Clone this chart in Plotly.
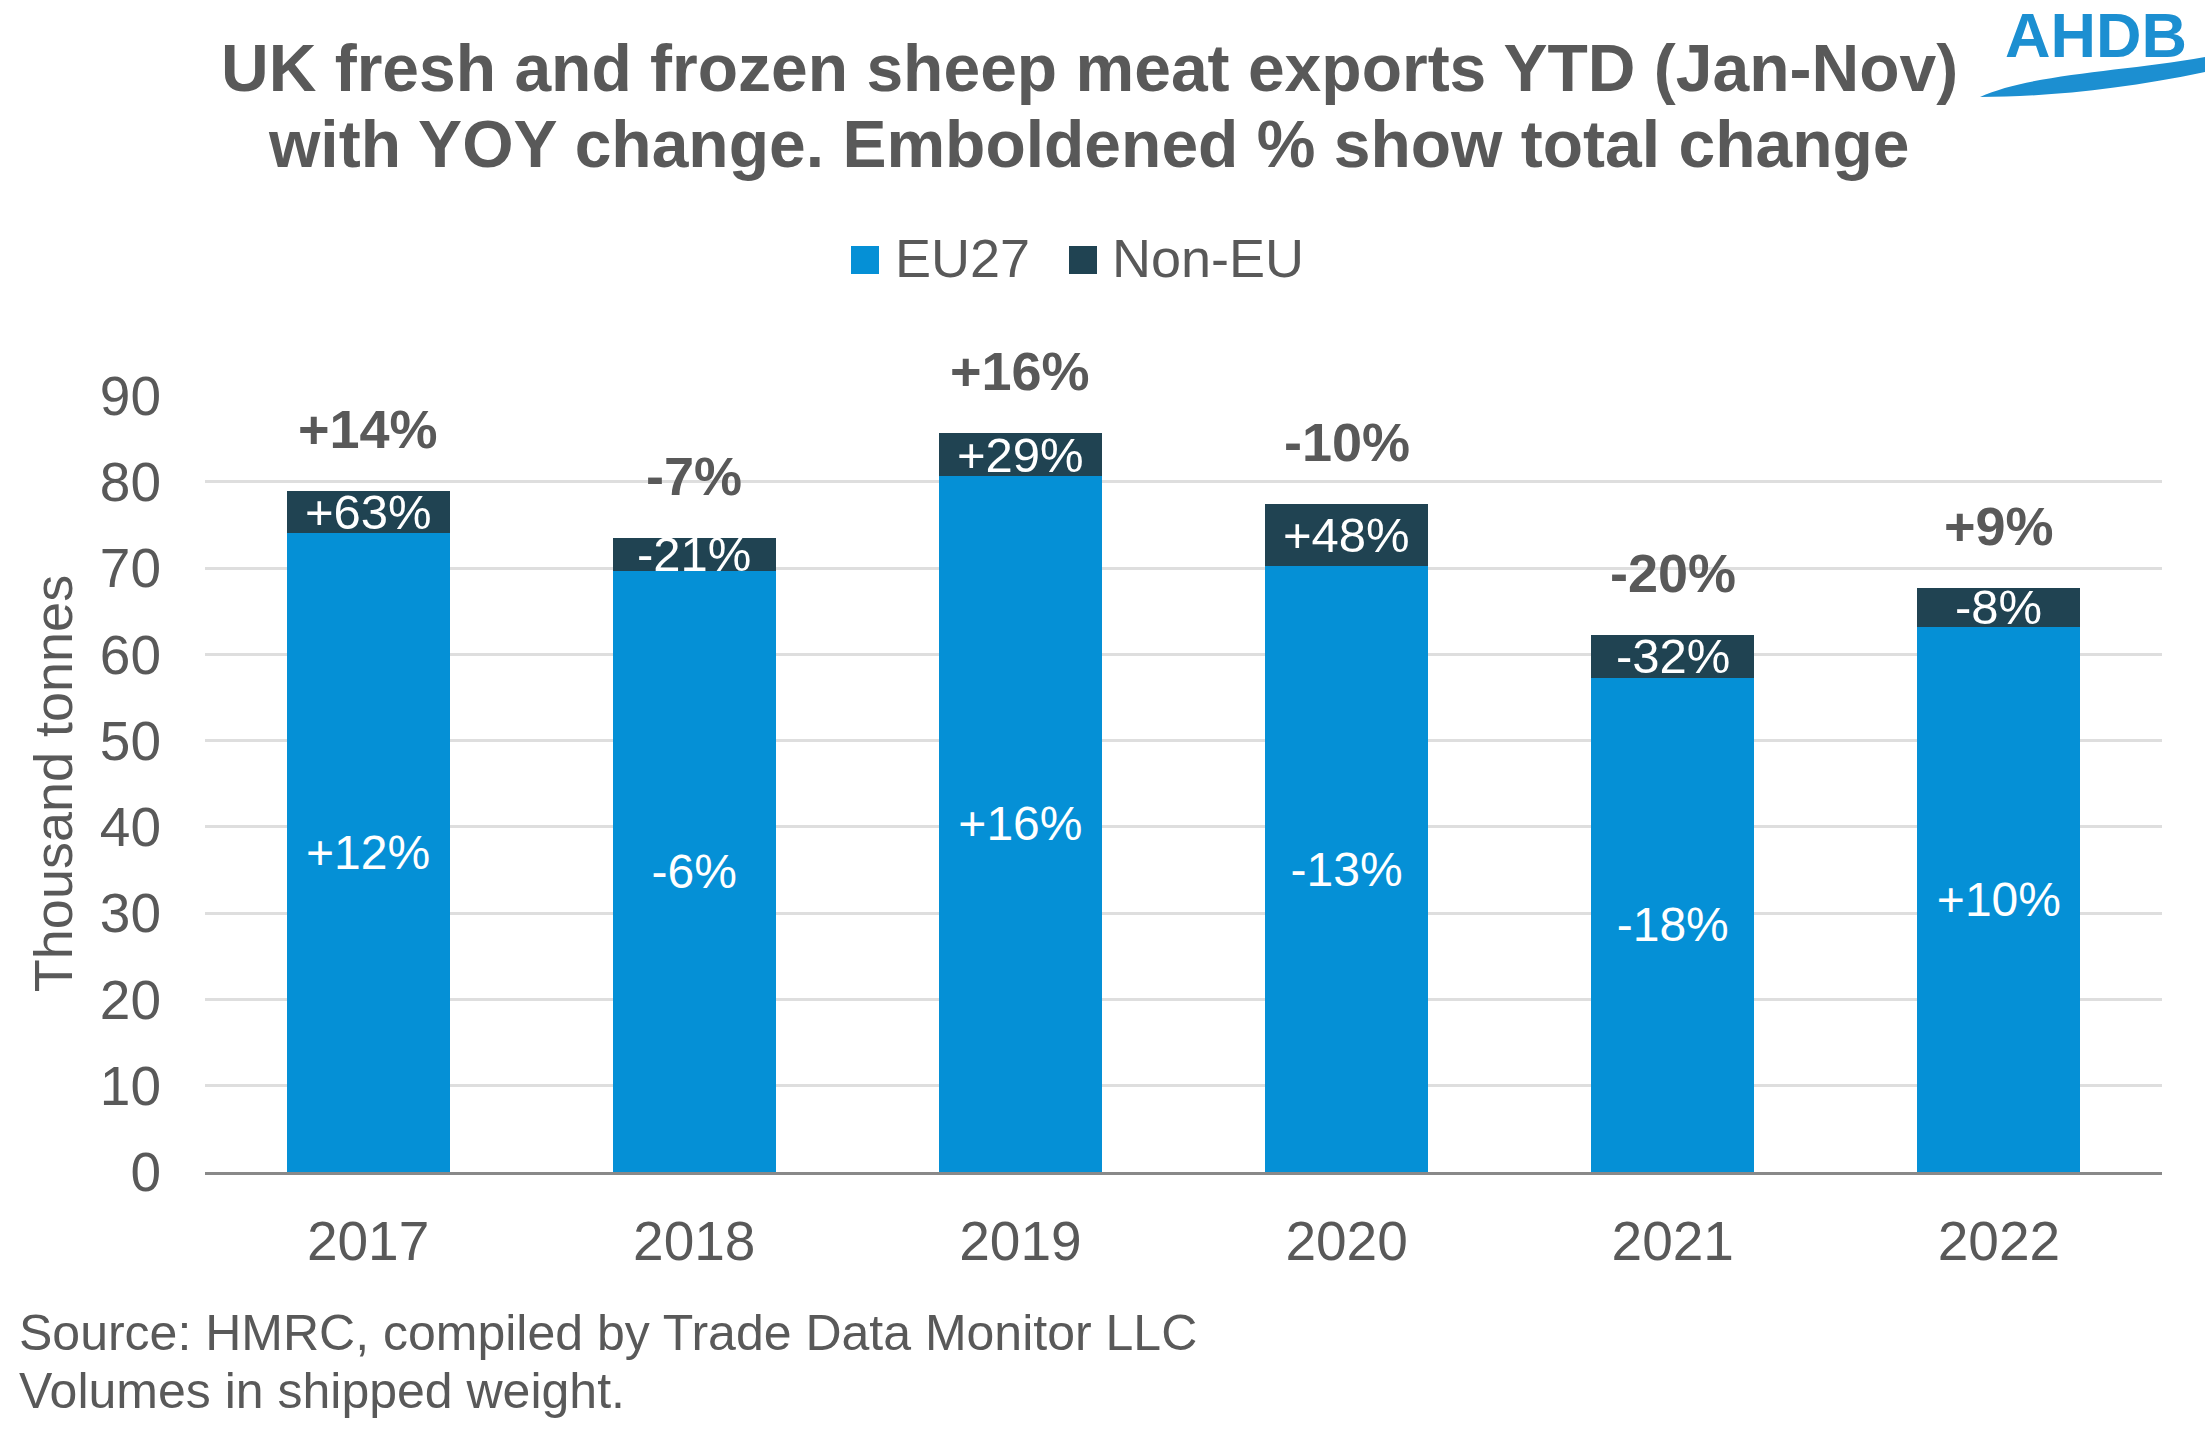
import plotly.graph_objects as go

# ---------------- data ----------------
years = ["2017", "2018", "2019", "2020", "2021", "2022"]
eu27 = [74.1, 69.7, 80.7, 70.2, 57.3, 63.2]
non_eu = [4.8, 3.8, 4.9, 7.2, 4.9, 4.5]
eu27_change = ["+12%", "-6%", "+16%", "-13%", "-18%", "+10%"]
non_eu_change = ["+63%", "-21%", "+29%", "+48%", "-32%", "-8%"]
total_change = ["+14%", "-7%", "+16%", "-10%", "-20%", "+9%"]
y_ticks = [0, 10, 20, 30, 40, 50, 60, 70, 80, 90]
series_names = ["EU27", "Non-EU"]

title_lines = ["UK fresh and frozen sheep meat exports YTD (Jan-Nov)",
               "with YOY change. Emboldened % show total change"]
source_lines = ["Source: HMRC, compiled by Trade Data Monitor LLC",
                "Volumes in shipped weight."]

# ---------------- style ----------------
W, H = 2209, 1430
L, R, T, B = 205, 2162, 395, 1172
FONT = "Liberation Sans, Arial, sans-serif"
GREY = "#595959"
EU_COL = "#0590d6"
NON_COL = "#204352"
LOGO_COL = "#1c8fd1"


def px(x):
    return (x - L) / (R - L)


def py(y):
    return (B - y) / (B - T)


fig = go.Figure()
fig.add_trace(go.Bar(
    x=years, y=eu27, name=series_names[0], marker=dict(color=EU_COL, line=dict(width=0)),
    text=eu27_change, textposition="inside", insidetextanchor="middle",
    textangle=0, textfont=dict(color="white", size=48, family=FONT),
    width=0.5, hoverinfo="x+y", showlegend=False,
))
fig.add_trace(go.Bar(
    x=years, y=non_eu, name=series_names[1], marker=dict(color=NON_COL, line=dict(width=0)),
    width=0.5, hoverinfo="x+y", showlegend=False,
))

annotations = []
for i, (e, n, lab) in enumerate(zip(eu27, non_eu, non_eu_change)):
    annotations.append(dict(x=i, y=e + n / 2, xref="x", yref="y", text=lab,
                            showarrow=False, yanchor="middle",
                            font=dict(color="white", size=49, family=FONT)))
for i, (e, n, lab) in enumerate(zip(eu27, non_eu, total_change)):
    annotations.append(dict(x=i, y=e + n, xref="x", yref="y", text="<b>%s</b>" % lab,
                            showarrow=False, yanchor="middle", yshift=62,
                            font=dict(color=GREY, size=54, family=FONT)))

# title
for txt, yc in zip(title_lines, [68, 144]):
    annotations.append(dict(x=px(1089), y=py(yc), xref="paper", yref="paper",
                            text="<b>%s</b>" % txt, showarrow=False,
                            xanchor="center", yanchor="middle",
                            font=dict(color=GREY, size=66, family=FONT)))
# source
for txt, yc in zip(source_lines, [1333, 1391]):
    annotations.append(dict(x=px(17), y=py(yc), xref="paper", yref="paper",
                            text=txt, showarrow=False,
                            xanchor="left", yanchor="middle",
                            font=dict(color=GREY, size=50, family=FONT)))

# legend (drawn as swatches + labels)
shapes = []
legend_items = [(series_names[0], EU_COL, 851, 895), (series_names[1], NON_COL, 1069, 1112)]
for name, col, sx, tx in legend_items:
    shapes.append(dict(type="rect", xref="paper", yref="paper",
                       x0=px(sx), x1=px(sx + 28), y0=py(274), y1=py(246),
                       fillcolor=col, line=dict(width=0)))
    annotations.append(dict(x=px(tx - 2), y=py(258), xref="paper", yref="paper",
                            text=name, showarrow=False, xanchor="left", yanchor="middle",
                            font=dict(color=GREY, size=54, family=FONT)))

# logo text
annotations.append(dict(x=px(2096), y=py(35), xref="paper", yref="paper",
                        text="<b>AHDB</b>", showarrow=False,
                        xanchor="center", yanchor="middle",
                        font=dict(color=LOGO_COL, size=63, family=FONT)))


def P(p):
    return "%f,%f" % (px(p[0]), py(p[1]))


# logo wave
wave = ("M " + P((1980, 97)) + " C " + P((2030, 74)) + " " + P((2120, 72)) + " " + P((2205, 57)) +
        " L " + P((2205, 72)) + " C " + P((2120, 90)) + " " + P((2040, 97)) + " " + P((1980, 97)) + " Z")
shapes.append(dict(type="path", xref="paper", yref="paper", path=wave,
                   fillcolor=LOGO_COL, line=dict(width=0)))

fig.update_layout(
    width=W, height=H,
    margin=dict(l=L, r=W - R, t=T, b=H - B, pad=0),
    paper_bgcolor="white", plot_bgcolor="white",
    barmode="stack", bargap=0.5,
    font=dict(family=FONT, color=GREY, size=54),
    showlegend=False,
    annotations=annotations,
    shapes=shapes,
    xaxis=dict(type="category", range=[-0.5, len(years) - 0.5], autorange=False,
               showline=True, linecolor="#898989", linewidth=3,
               ticks="outside", ticklen=19, tickcolor="rgba(0,0,0,0)",
               tickfont=dict(size=55, color=GREY, family=FONT), showgrid=False,
               zeroline=False),
    yaxis=dict(range=[0, 90.05], autorange=False, tickvals=y_ticks, showline=False,
               gridcolor="#dedede", gridwidth=3, zeroline=False,
               ticks="outside", ticklen=32, tickcolor="rgba(0,0,0,0)",
               tickfont=dict(size=55, color=GREY, family=FONT),
               title=dict(text="Thousand tonnes", standoff=9,
                          font=dict(size=54, color=GREY, family=FONT))),
)

fig.write_html("out.html", config={"displayModeBar": False},
               post_script="document.body.style.margin='0';")
